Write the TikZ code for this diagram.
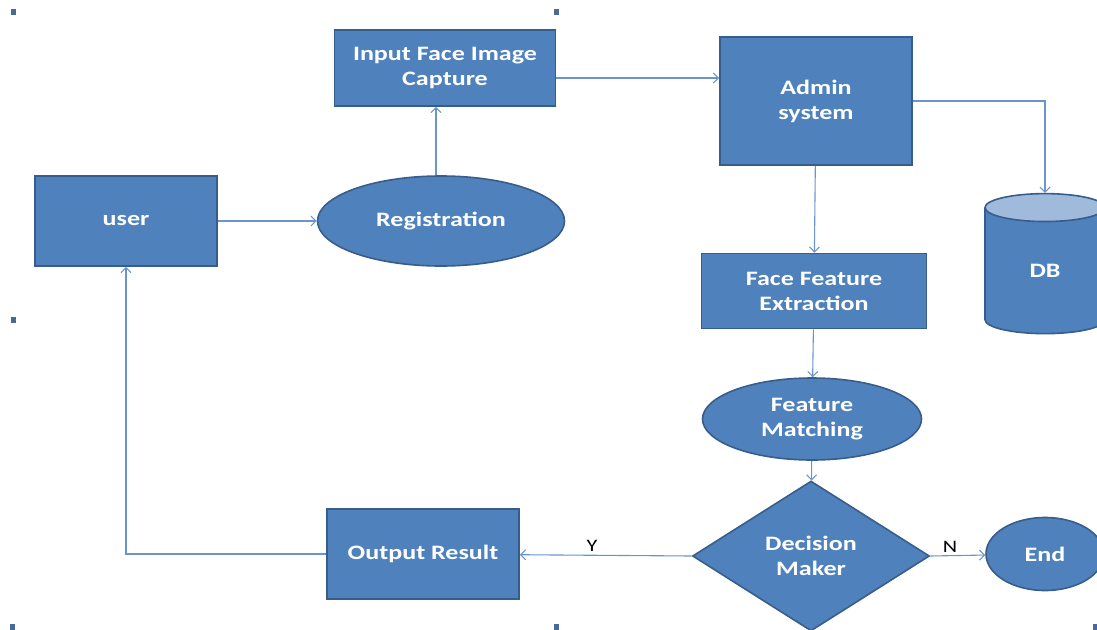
\documentclass[tikz,border=0pt]{standalone}
\usepackage{fontspec}
\setmainfont{Carlito}[FakeStretch=1.27]
\usetikzlibrary{shapes.geometric,arrows.meta}
\definecolor{boxblue}{RGB}{79,129,189}
\definecolor{edgeblue}{RGB}{56,93,138}
\definecolor{lineblue}{RGB}{105,148,206}
\definecolor{topblue}{RGB}{160,186,220}
\definecolor{handleblue}{RGB}{74,104,152}
\newcommand{\edgewd}{1.6pt}

\begin{document}
\begin{tikzpicture}[x=1pt,y=-1pt,
    blk/.style={draw=edgeblue, line width=\edgewd, fill=boxblue, text=white,
      align=center, inner sep=0pt, font=\fontsize{20.5}{25}\selectfont\bfseries},
    conn/.style={-{Straight Barb[length=5pt,width=10pt]}, draw=lineblue, line width=1.1pt},
    yn/.style={font=\fontsize{17.5}{19}\selectfont, inner sep=3pt}]
\useasboundingbox (0,0) rectangle (1097,629);

      %%  selection handles  %%
      \foreach \hx/\hy in {13/12,556/12,13/320,12/627,556/627,1095/627}
      { \fill[handleblue] ({\hx-2.5},{\hy-3}) rectangle ({\hx+2.5},{\hy+3}); }

      %%  boxes  %%
      \node (user) at (126,221) [blk, minimum width=182pt, minimum height=90pt] {user};
      \node (reg) at (441,221) [blk, ellipse, minimum width=247pt, minimum height=90pt] {Registration};
      \node (inp) at (445,68) [blk, minimum width=221pt, minimum height=76pt] {Input Face Image\\Capture};
      \node (adm) at (816,101) [blk, minimum width=192pt, minimum height=128pt] {Admin\\system};
      \node (db) at (1045,271) [blk, fill=none, cylinder, shape border rotate=90, aspect=0.9,
        minimum width=120pt, minimum height=140pt, cylinder uses custom fill,
        cylinder body fill=boxblue, cylinder end fill=topblue] {DB};
      \node (ffe) at (814,291) [blk, minimum width=225pt, minimum height=75pt] {Face Feature\\Extraction};
      \node (match) at (812,419) [blk, ellipse, minimum width=219pt, minimum height=82pt] {Feature\\Matching};
      \node (dec) at (811,556) [blk, diamond, aspect=1.6, minimum width=237pt, minimum height=150pt] {Decision\\Maker};
      \node (end) at (1045,554) [blk, ellipse, minimum width=118pt, minimum height=73pt] {End};
      \node (out) at (423,554) [blk, minimum width=192pt, minimum height=90pt] {Output Result};

      %%  connectors  %%
      \draw[conn] (user) to (reg);
      \draw[conn] ([xshift=-5pt]reg.north) to ([xshift=-5pt]reg.north |- inp.south);
      \draw[conn] ([yshift=-10pt]inp.east) to ([yshift=-10pt]inp.east -| adm.west);
      \draw[conn] (adm.east) -| (db.north);
      \draw[conn] (adm) to (ffe);
      \draw[conn] (ffe) to (match);
      \draw[conn] (match) to (dec);
      \draw[conn] (dec.east) to node[yn, pos=.36, above] {N} (end);
      \draw[conn] (dec.west) to node[yn, pos=.58, above] {Y} (out);
      \draw[conn] (out.west) -| (user.south);

\end{tikzpicture}
\end{document}
